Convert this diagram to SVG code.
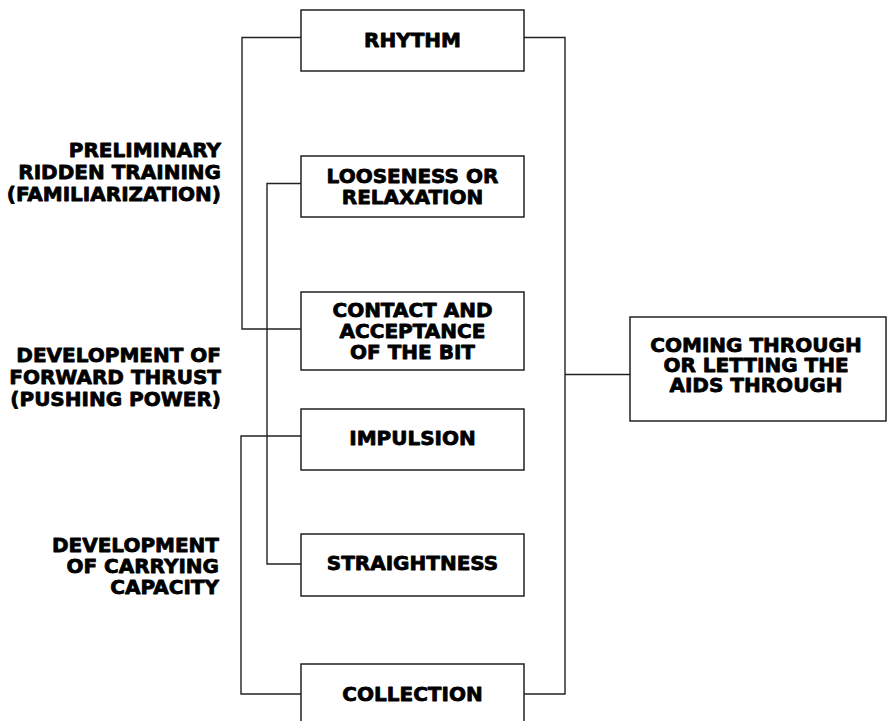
<svg xmlns="http://www.w3.org/2000/svg" width="892" height="721" viewBox="0 0 892 721">
<style>
.box{fill:#fff;stroke:#222;stroke-width:1.5}
.ln{fill:none;stroke:#222;stroke-width:1.4}
.t,.lab{font-family:"DejaVu Sans","Liberation Sans",sans-serif;font-weight:bold;font-size:20px;fill:#000;stroke:#000;stroke-width:0.8;stroke-linejoin:round}
.t{text-anchor:middle}
.lab{text-anchor:end}
</style>
<rect width="892" height="721" fill="#fff"/>
<g id="connectors">
<polyline class="ln" points="301,37.5 242,37.5 242,329 301,329"/>
<polyline class="ln" points="301,183.5 267,183.5 267,564 301,564"/>
<polyline class="ln" points="301,436 241,436 241,694 301,694"/>
<polyline class="ln" points="524,37.5 565,37.5 565,694 524,694"/>
<line class="ln" x1="565" y1="374.5" x2="630" y2="374.5"/>
</g>
<g id="labels">
<text class="lab"><tspan x="221" y="157">PRELIMINARY</tspan><tspan x="221" y="179">RIDDEN TRAINING</tspan><tspan x="221" y="201">(FAMILIARIZATION)</tspan></text>
<text class="lab"><tspan x="221" y="362">DEVELOPMENT OF</tspan><tspan x="221" y="384">FORWARD THRUST</tspan><tspan x="221" y="406">(PUSHING POWER)</tspan></text>
<text class="lab"><tspan x="219" y="552">DEVELOPMENT</tspan><tspan x="219" y="573">OF CARRYING</tspan><tspan x="219" y="594">CAPACITY</tspan></text>
</g>
<g id="rhythm"><rect class="box" x="301" y="10" width="223" height="61"/><text class="t" x="412.5" y="47">RHYTHM</text></g>
<g id="looseness"><rect class="box" x="301" y="156" width="223" height="61"/><text class="t"><tspan x="412.5" y="183">LOOSENESS OR</tspan><tspan x="412.5" y="204">RELAXATION</tspan></text></g>
<g id="contact"><rect class="box" x="301" y="292" width="223" height="78"/><text class="t"><tspan x="412.5" y="317">CONTACT AND</tspan><tspan x="412.5" y="338">ACCEPTANCE</tspan><tspan x="412.5" y="359">OF THE BIT</tspan></text></g>
<g id="impulsion"><rect class="box" x="301" y="409" width="223" height="61"/><text class="t" x="412.5" y="445">IMPULSION</text></g>
<g id="straightness"><rect class="box" x="301" y="534" width="223" height="62"/><text class="t" x="412.5" y="570">STRAIGHTNESS</text></g>
<g id="collection"><rect class="box" x="301" y="664" width="223" height="62"/><text class="t" x="412.5" y="701">COLLECTION</text></g>
<g id="coming-through"><rect class="box" x="630" y="317" width="256" height="104"/><text class="t"><tspan x="756" y="352">COMING THROUGH</tspan><tspan x="756" y="372">OR LETTING THE</tspan><tspan x="756" y="392">AIDS THROUGH</tspan></text></g>
</svg>
